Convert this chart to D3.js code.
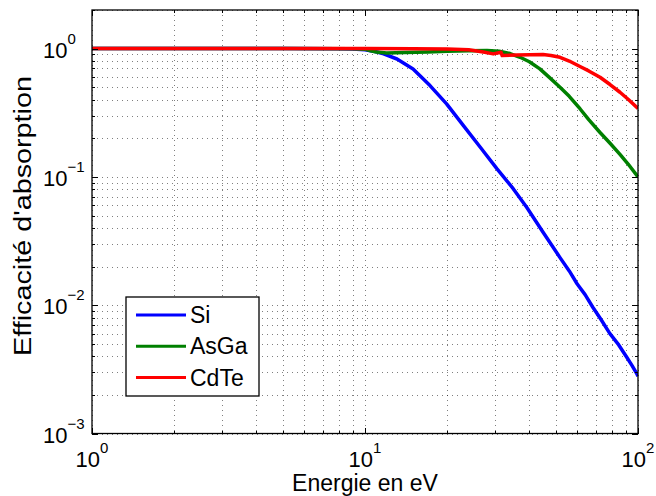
<!DOCTYPE html>
<html>
<head>
<meta charset="utf-8">
<script src="https://cdn.jsdelivr.net/npm/d3@7"></script>
<style>
  html, body { margin: 0; padding: 0; background: #fff; }
  svg { display: block; font-family: "Liberation Sans", Arial, Helvetica, sans-serif; }
</style>
</head>
<body>
<svg id="chart" width="656" height="496"></svg>
<script>
// ---- data ----
const seriesNames = ["Si", "AsGa", "CdTe"];
const seriesColors = ["#0000ff", "#008000", "#ff0000"];

const energySi = [1, 2, 5, 8, 9, 10, 11, 11.7, 13.1, 15, 17.3, 19.9, 22.9, 26.4, 30.4, 34.9, 39.1, 44.9, 51.8, 56, 59.8, 64, 68.4, 73, 78.9, 85, 91.2, 95, 99.2, 100];
const effSi    = [1, 1, 1, 0.998, 0.993, 0.978, 0.945, 0.91, 0.83, 0.695, 0.515, 0.371, 0.252, 0.171, 0.116, 0.081, 0.058, 0.037, 0.0235, 0.0185, 0.0147, 0.0121, 0.0096, 0.0078, 0.0060, 0.0049, 0.0039, 0.0034, 0.0029, 0.0028];

const energyAsGa = [1, 5, 9, 10, 10.5, 11, 12, 14, 17, 20, 24, 28, 31, 34, 37, 40, 43.7, 47, 51.8, 56, 61.3, 66, 72.6, 79, 85.9, 92, 100];
const effAsGa    = [1, 1, 0.998, 0.99, 0.96, 0.94, 0.926, 0.933, 0.943, 0.953, 0.962, 0.968, 0.955, 0.915, 0.856, 0.79, 0.695, 0.605, 0.50, 0.425, 0.34, 0.28, 0.222, 0.183, 0.150, 0.126, 0.100];

const energyCdTe = [1, 5, 10, 15, 20, 24, 27.1, 29.5, 31.5, 31.8, 36, 44.9, 48, 51.8, 56, 61.3, 66, 72.6, 79, 85.9, 92, 100];
const effCdTe    = [1, 1, 1, 0.999, 0.995, 0.98, 0.94, 0.91, 0.937, 0.882, 0.893, 0.898, 0.885, 0.856, 0.80, 0.725, 0.67, 0.598, 0.525, 0.457, 0.403, 0.342];

const xDecades = [0, 1, 2];          // tick labels 10^0 .. 10^2
const yDecades = [-3, -2, -1, 0];    // tick labels 10^-3 .. 10^0
const xLabel = "Energie en eV";
const yLabel = "Efficacité d'absorption";

// ---- layout ----
const svg = d3.select("#chart");
const L = 92, R = 638, T = 10, B = 433.5;
const x = d3.scaleLog().domain([1, 100]).range([L, R]);
const y = d3.scaleLog().domain([0.001, 2]).range([B, T]);

const fontMain = 22, fontSup = 15, fontTitle = 23;

// ---- grid (major + minor, dotted) ----
const xMinor = [], yMinor = [];
for (let d = 0; d < 2; d++) for (let k = 2; k <= 9; k++) xMinor.push(k * Math.pow(10, d));
for (let d = -3; d <= 0; d++) for (let k = 2; k <= 9; k++) { const v = k * Math.pow(10, d); if (v <= 2) yMinor.push(v); }
const xMajor = xDecades.map(e => Math.pow(10, e));
const yMajor = yDecades.map(e => Math.pow(10, e));

const grid = svg.append("g").attr("stroke", "#000").attr("stroke-opacity", 0.5)
  .attr("stroke-width", 1).attr("stroke-dasharray", "1,4").attr("shape-rendering", "crispEdges");
xMinor.concat(xMajor).forEach(v => {
  grid.append("line").attr("x1", Math.round(x(v)) + 0.5).attr("x2", Math.round(x(v)) + 0.5).attr("y1", T).attr("y2", B);
});
yMinor.concat(yMajor).forEach(v => {
  grid.append("line").attr("y1", Math.round(y(v)) + 0.5).attr("y2", Math.round(y(v)) + 0.5).attr("x1", L).attr("x2", R);
});

// ---- curves ----
const line = d3.line().x(d => x(d[0])).y(d => y(d[1]));
const allSeries = [
  d3.zip(energySi, effSi),
  d3.zip(energyAsGa, effAsGa),
  d3.zip(energyCdTe, effCdTe)
];
svg.append("clipPath").attr("id", "clip").append("rect")
  .attr("x", L).attr("y", T).attr("width", R - L).attr("height", B - T);
allSeries.forEach((s, i) => {
  svg.append("path").datum(s).attr("d", line).attr("fill", "none")
    .attr("stroke", seriesColors[i]).attr("stroke-width", 3.5)
    .attr("stroke-linejoin", "round").attr("clip-path", "url(#clip)");
});

// ---- box and ticks (inward, all four sides) ----
const ax = svg.append("g").attr("stroke", "#000").attr("stroke-width", 1).attr("shape-rendering", "crispEdges");
const majLen = 6, minLen = 3;
xMajor.concat(xMinor).forEach(v => {
  const len = xMajor.includes(v) ? majLen : minLen;
  const px = Math.round(x(v)) + 0.5;
  ax.append("line").attr("x1", px).attr("x2", px).attr("y1", B).attr("y2", B - len);
  ax.append("line").attr("x1", px).attr("x2", px).attr("y1", T).attr("y2", T + len);
});
yMajor.concat(yMinor).forEach(v => {
  const len = yMajor.includes(v) ? majLen : minLen;
  const py = Math.round(y(v)) + 0.5;
  ax.append("line").attr("y1", py).attr("y2", py).attr("x1", L).attr("x2", L + len);
  ax.append("line").attr("y1", py).attr("y2", py).attr("x1", R).attr("x2", R - len);
});
svg.append("rect").attr("x", L).attr("y", T).attr("width", R - L).attr("height", B - T)
  .attr("fill", "none").attr("stroke", "#000").attr("stroke-width", 1.3);

// ---- tick labels ----
const fmtExp = e => (e < 0 ? "\u2212" + Math.abs(e) : String(e));
xDecades.forEach(e => {
  const t = svg.append("text").attr("x", x(Math.pow(10, e))).attr("y", 467)
    .attr("text-anchor", "middle").attr("font-size", fontMain).attr("fill", "#000");
  t.append("tspan").text("10");
  t.append("tspan").attr("dy", -14).attr("font-size", fontSup).text(fmtExp(e));
});
yDecades.forEach(e => {
  const t = svg.append("text").attr("x", 43).attr("y", y(Math.pow(10, e)) + 9)
    .attr("text-anchor", "start").attr("font-size", fontMain).attr("fill", "#000");
  t.append("tspan").text("10");
  t.append("tspan").attr("dy", -14).attr("font-size", fontSup).text(fmtExp(e));
});

// ---- axis titles ----
svg.append("text").attr("x", (L + R) / 2).attr("y", 491).attr("text-anchor", "middle")
  .attr("font-size", fontTitle).text(xLabel);
svg.append("text").attr("transform", `translate(31,216) rotate(-90)`)
  .attr("text-anchor", "middle").attr("font-size", fontTitle)
  .attr("textLength", 280).attr("lengthAdjust", "spacingAndGlyphs").text(yLabel);

// ---- legend ----
const lg = svg.append("g");
lg.append("rect").attr("x", 126).attr("y", 297).attr("width", 133).attr("height", 99)
  .attr("fill", "#fff").attr("stroke", "#000").attr("stroke-width", 1.3);
seriesNames.forEach((n, i) => {
  const yy = 315 + i * 31.3;
  lg.append("line").attr("x1", 136).attr("x2", 186).attr("y1", yy).attr("y2", yy)
    .attr("stroke", seriesColors[i]).attr("stroke-width", 3);
  lg.append("text").attr("x", 190).attr("y", yy + 8).attr("font-size", 23).text(n);
});
</script>
</body>
</html>
